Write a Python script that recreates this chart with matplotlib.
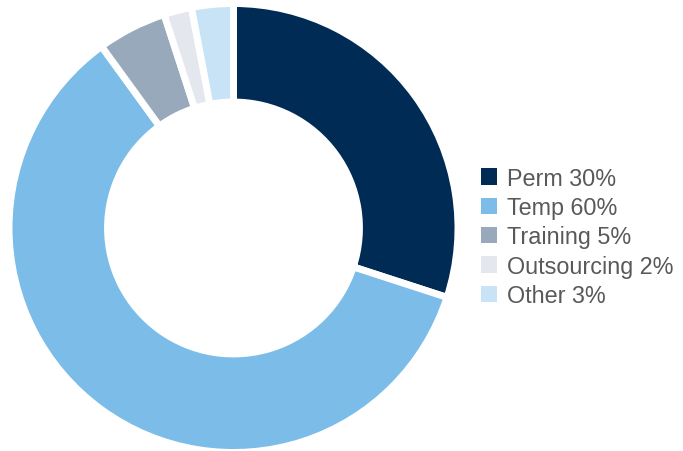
import matplotlib
matplotlib.use("Agg")
import matplotlib.pyplot as plt
from matplotlib.patches import Patch

plt.rcParams['font.family'] = ['Liberation Sans', 'DejaVu Sans']

labels = ["Perm", "Temp", "Training", "Outsourcing", "Other"]
shares = [30, 60, 5, 2, 3]
colors = ["#002b54", "#7bbde8", "#98a9bb", "#e4e8ee", "#c8e3f5"]

fig = plt.figure(figsize=(6.83, 4.52), dpi=100)
ax = fig.add_axes([9 / 683, -1.5 / 452, 449 / 683, 449 / 452])

ax.pie(shares, colors=colors, startangle=90, counterclock=False,
       radius=1, wedgeprops=dict(width=0.439, edgecolor="white", linewidth=5))
ax.set_xlim(-1, 1)
ax.set_ylim(-1, 1)
ax.set_aspect("equal")
ax.axis("off")

handles = [Patch(facecolor=c, edgecolor="none") for c in colors]
leg_labels = [f"{l} {s}%" for l, s in zip(labels, shares)]
fig.legend(handles, leg_labels, loc="center left",
           bbox_to_anchor=(481 / 683, 0.474), frameon=False,
           fontsize=16.8, handlelength=0.7, handleheight=0.7,
           handletextpad=0.4, labelspacing=0.27, borderpad=0,
           borderaxespad=0, labelcolor="#58595b")

fig.savefig("out.png", dpi=100)
